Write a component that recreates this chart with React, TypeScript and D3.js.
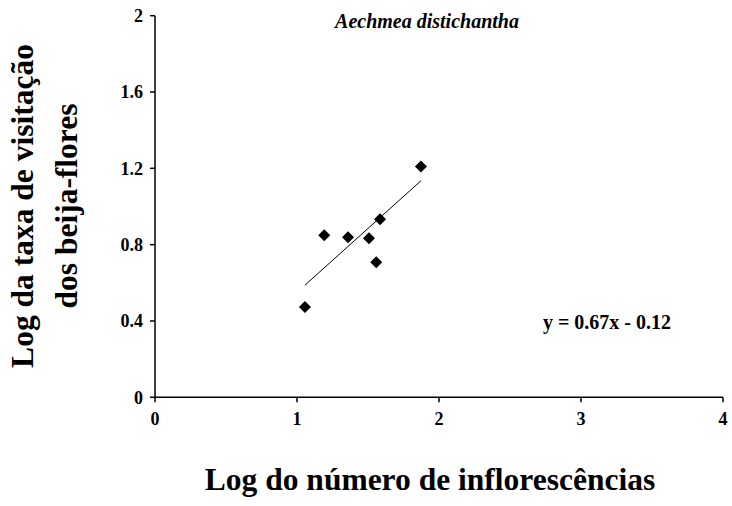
import React from "react";
import * as d3 from "d3";

const xData = [1.056, 1.192, 1.359, 1.507, 1.558, 1.585, 1.873];
const yData = [0.473, 0.849, 0.839, 0.833, 0.708, 0.933, 1.209];
const xTicks = [0, 1, 2, 3, 4];
const yTicks = [0, 0.4, 0.8, 1.2, 1.6, 2];
const slope = 0.67;
const intercept = -0.12;
const title = "Aechmea distichantha";
const equation = "y = 0.67x - 0.12";
const xTitle = "Log do número de inflorescências";
const yTitle1 = "Log da taxa de visitação";
const yTitle2 = "dos beija-flores";

export default function App() {
  const W = 732, H = 506;
  const x = d3.scaleLinear().domain([0, 4]).range([155, 723]);
  const y = d3.scaleLinear().domain([0, 2]).range([397.3, 15.7]);
  const font = "'Liberation Serif', 'Times New Roman', serif";
  const xmin = d3.min(xData)!, xmax = d3.max(xData)!;
  const line = d3.line<number>().x(d => x(d)).y(d => y(slope * d + intercept));
  const diamond = d3.symbol().type(d3.symbolSquare).size(72)()!;
  return (
    <svg width={W} height={H} style={{ position: "absolute", left: 0, top: 0, background: "#fff" }} fontFamily={font}>
      <rect width={W} height={H} fill="#fff" />
      <line x1={x(0)} x2={x(0)} y1={y(2)} y2={y(0)} stroke="#000" strokeWidth={1.5} />
      <line x1={x(0)} x2={x(4)} y1={y(0)} y2={y(0)} stroke="#000" strokeWidth={1.5} />
      {yTicks.map(t => (
        <g key={"y" + t}>
          <line x1={x(0) - 5} x2={x(0)} y1={y(t)} y2={y(t)} stroke="#000" strokeWidth={1.5} />
          <text x={x(0) - 12} y={y(t)} dy="0.35em" textAnchor="end" fontSize={18} fontWeight="bold">{t}</text>
        </g>
      ))}
      {xTicks.map(t => (
        <g key={"x" + t}>
          <line x1={x(t)} x2={x(t)} y1={y(0)} y2={y(0) + 5} stroke="#000" strokeWidth={1.5} />
          <text x={x(t)} y={425} textAnchor="middle" fontSize={18} fontWeight="bold">{t}</text>
        </g>
      ))}
      <path d={line([xmin, xmax])!} stroke="#000" strokeWidth={1} fill="none" />
      {xData.map((d, i) => (
        <path key={i} d={diamond} transform={`translate(${x(d)},${y(yData[i])}) rotate(45)`} fill="#000" />
      ))}
      <text x={427} y={28.3} textAnchor="middle" fontSize={20} fontWeight="bold" fontStyle="italic">{title}</text>
      <text x={607} y={329} textAnchor="middle" fontSize={20} fontWeight="bold">{equation}</text>
      <text x={430} y={490} textAnchor="middle" fontSize={31.5} fontWeight="bold">{xTitle}</text>
      <text transform="translate(33,206) rotate(-90)" textAnchor="middle" fontSize={31.5} fontWeight="bold">{yTitle1}</text>
      <text transform="translate(77,206) rotate(-90)" textAnchor="middle" fontSize={31.5} fontWeight="bold">{yTitle2}</text>
    </svg>
  );
}
